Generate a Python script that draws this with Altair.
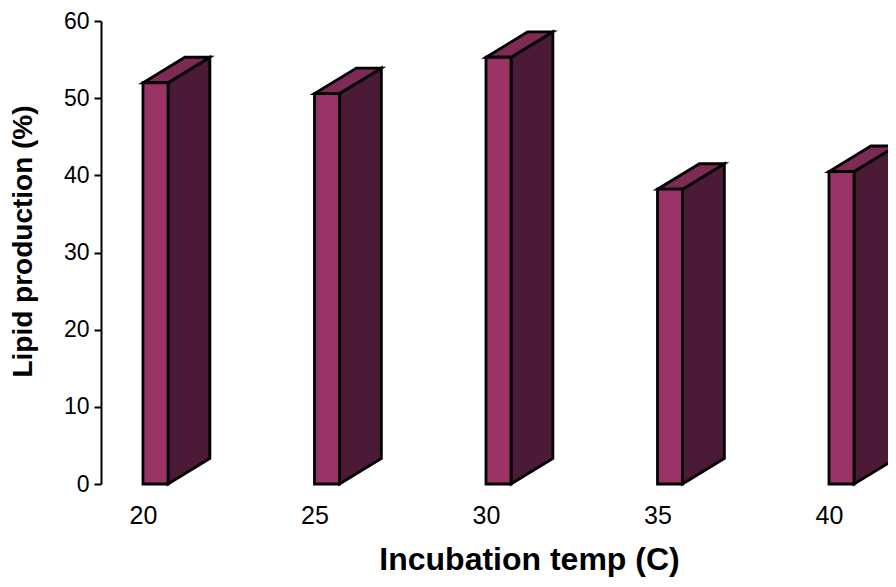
import altair as alt
import pandas as pd

# ---- data ----
temps = [20, 25, 30, 35, 40]
lipid = [52.0, 50.6, 55.3, 38.2, 40.5]
y_ticks = [0, 10, 20, 30, 40, 50, 60]

# ---- 3D bar geometry (style, in data units) ----
BAR_W = 0.73   # width of the front face (temperature units)
DX = 1.22      # depth offset along x
DY = 3.3       # depth offset along y (percent units)

FRONT = "#993366"
SIDE = "#4b1a36"
TOP = "#7e2a57"
EDGE = "#000000"

front = pd.DataFrame({"t": temps, "t2": [t + BAR_W for t in temps], "v": lipid, "v0": [0] * len(temps)})

side_rows = []
top_rows = []
for t, v in zip(temps, lipid):
    side_rows.append({"bar": t, "x": t + BAR_W, "y": v, "y2": 0.0})
    side_rows.append({"bar": t, "x": t + BAR_W + DX, "y": v + DY, "y2": DY})
    top_rows.append({"bar": t, "y": v, "x": t, "x2": t + BAR_W})
    top_rows.append({"bar": t, "y": v + DY, "x": t + DX, "x2": t + BAR_W + DX})
side = pd.DataFrame(side_rows)
top = pd.DataFrame(top_rows)

FONT = "Liberation Sans"

xscale = alt.Scale(domain=[18.776, 41.72], nice=False, zero=False)
yscale = alt.Scale(domain=[0, 60], nice=False, zero=True)

xaxis = alt.Axis(
    values=temps, format="d", domain=False, ticks=False, grid=False,
    labelFontSize=25, labelFont=FONT, labelColor="black", labelPadding=19,
    title="Incubation temp (C)", titleFont=FONT, titleFontSize=32, titleFontWeight="bold",
    titleColor="black", titleBaseline="alphabetic", titleY=85, titleX=428, titleAlign="center",
)
yaxis = alt.Axis(
    values=y_ticks, format="d", grid=False, domain=True, domainColor="black", domainWidth=2,
    ticks=True, tickColor="black", tickWidth=2, tickSize=7,
    labelFontSize=23, labelFont=FONT, labelColor="black", labelPadding=5,
    title="Lipid production (%)", titleFont=FONT, titleFontSize=28, titleFontWeight="bold",
    titleColor="black", titleAngle=270, titleBaseline="middle", titleAlign="center",
    titleX=-78, titleY=220,
)

side_layer = alt.Chart(side).mark_area(
    fill=SIDE, stroke=EDGE, strokeWidth=2.8, strokeJoin="miter", interpolate="linear", opacity=1
).encode(
    x=alt.X("x:Q", scale=xscale, axis=xaxis),
    y=alt.Y("y:Q", scale=yscale, axis=yaxis, stack=None),
    y2="y2:Q",
    detail="bar:N",
)

top_layer = alt.Chart(top).mark_area(
    orient="horizontal", fill=TOP, stroke=EDGE, strokeWidth=2.8, strokeJoin="miter",
    interpolate="linear", opacity=1
).encode(
    y=alt.Y("y:Q", scale=yscale, axis=yaxis),
    x=alt.X("x:Q", scale=xscale, axis=xaxis, stack=None),
    x2="x2:Q",
    detail="bar:N",
)

front_layer = alt.Chart(front).mark_rect(
    fill=FRONT, stroke=EDGE, strokeWidth=2.8, strokeJoin="miter"
).encode(
    x=alt.X("t:Q", scale=xscale, axis=xaxis),
    x2="t2:Q",
    y=alt.Y("v:Q", scale=yscale, axis=yaxis),
    y2="v0:Q",
)

chart = alt.layer(side_layer, top_layer, front_layer).properties(
    width=787,
    height=463,
    autosize=alt.AutoSizeParams(type="none"),
    padding={"left": 93, "top": 13, "right": 0, "bottom": 95},
    background="white",
).configure_view(stroke=None)

chart.save("out.html", embed_options={"renderer": "svg", "actions": False})
